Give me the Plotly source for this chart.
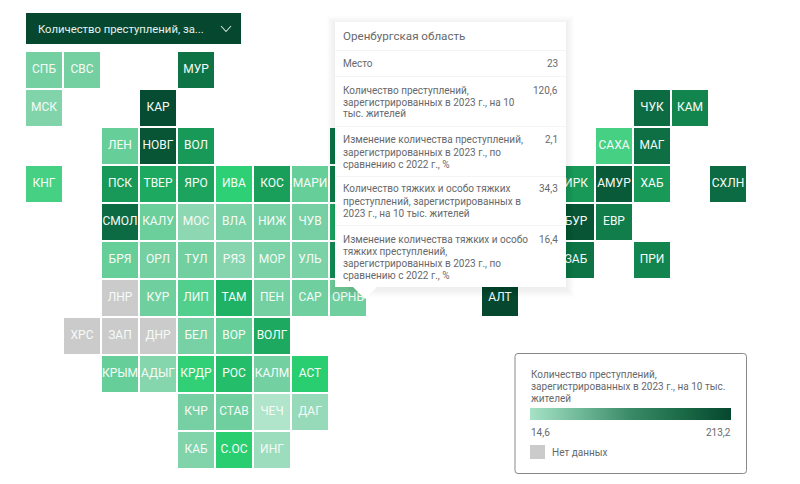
import plotly.graph_objects as go

# Data
regions = ["СПБ","СВС","МУР","МСК","КАР","ЛЕН","НОВГ","ВОЛ","КНГ","ПСК","ТВЕР","ЯРО","ИВА","КОС","МАРИ",
           "СМОЛ","КАЛУ","МОС","ВЛА","НИЖ","ЧУВ","БРЯ","ОРЛ","ТУЛ","РЯЗ","МОР","УЛЬ","КУР","ЛИП","ТАМ","ПЕН","САР","ОРНБ",
           "БЕЛ","ВОР","ВОЛГ","КРЫМ","АДЫГ","КРДР","РОС","КАЛМ","АСТ","КЧР","СТАВ","ЧЕЧ","ДАГ","КАБ","С.ОС","ИНГ",
           "ЧУК","КАМ","САХА","МАГ","ИРК","АМУР","ХАБ","СХЛН","БУР","ЕВР","ЗАБ","ПРИ","АЛТ"]
region_col = [0,1,4,0,3,2,3,4,0,2,3,4,5,6,7,
              2,3,4,5,6,7,2,3,4,5,6,7,3,4,5,6,7,8,
              4,5,6,2,3,4,5,6,7,4,5,6,7,4,5,6,
              16,17,15,16,14,15,16,18,14,15,14,16,12]
region_row = [0,0,0,1,1,2,2,2,3,3,3,3,3,3,3,
              4,4,4,4,4,4,5,5,5,5,5,5,6,6,6,6,6,6,
              7,7,7,8,8,8,8,8,8,9,9,9,9,10,10,10,
              1,1,2,2,3,3,3,3,4,4,5,5,6]
crime_rate = [115,115,187,95,210,123,205,168,131,168,160,163,137,165,123,
              192,122,75,105,112,112,123,115,118,85,105,105,120,128,155,115,121,120.6,
              110,123,160,123,88,136,148,117,139,112,120,14.6,60,95,139,50,
              192,178,131,190,168,202,168,192,205,182,187,178,213.2]
# Cells whose labels are hidden behind the tooltip
hidden_col = [8,8,8,8]
hidden_row = [2,3,4,5]
hidden_rate = [187,182,160,172]
no_data = ["ЛНР","ХРС","ЗАП","ДНР"]
no_data_col = [2,1,2,3]
no_data_row = [6,7,7,7]
value_min, value_max = 14.6, 213.2

cell_scale = [[0,"#b0e5cb"],[0.3,"#8ed7b3"],[0.534,"#70cf9f"],[0.62,"#2ad072"],[0.72,"#1fae62"],[0.85,"#0f7a49"],[1,"#05472f"]]
legend_scale = [[0,"#a6e2c6"],[0.25,"#6fb898"],[0.5,"#3b8a67"],[0.75,"#1c6b47"],[1,"#05472f"]]

tip_title = "Оренбургская область"
tip_rows = [
    (["Место"], "23", 63),
    (["Количество преступлений,","зарегистрированных в 2023 г., на 10","тыс. жителей"], "120,6", 90),
    (["Изменение количества преступлений,","зарегистрированных в 2023 г., по","сравнению с 2022 г., %"], "2,1", 140),
    (["Количество тяжких и особо тяжких","преступлений, зарегистрированных в","2023 г., на 10 тыс. жителей"], "34,3", 189),
    (["Изменение количества тяжких и особо","тяжких преступлений,","зарегистрированных в 2023 г., по","сравнению с 2022 г., %"], "16,4", 239),
]
tip_lines = [50,76,126,176,225]
legend_lines = ["Количество преступлений,","зарегистрированных в 2023 г., на 10 тыс.","жителей"]

n_cols, n_rows = 19, 11
def grid(cols, rows, vals):
    m = [[None]*n_cols for _ in range(n_rows)]
    for c, r, v in zip(cols, rows, vals):
        m[r][c] = v
    return m

L, T, W, H = 25, 51, 722, 418
px = lambda x: (x-L)/W
py = lambda y: (T+H-y)/H

fig = go.Figure()
fig.add_trace(go.Heatmap(x=list(range(n_cols)), y=list(range(n_rows)),
    z=grid(region_col+hidden_col, region_row+hidden_row, crime_rate+hidden_rate),
    zmin=value_min, zmax=value_max, colorscale=cell_scale, showscale=False,
    xgap=2, ygap=2, hoverinfo="skip"))
fig.add_trace(go.Heatmap(x=list(range(n_cols)), y=list(range(n_rows)),
    z=grid(no_data_col, no_data_row, [1]*len(no_data)),
    zmin=0, zmax=1, colorscale=[[0,"#cbcbcb"],[1,"#cbcbcb"]], showscale=False,
    xgap=2, ygap=2, hoverinfo="skip"))
fig.add_trace(go.Scatter(x=region_col+no_data_col, y=region_row+no_data_row,
    text=regions+no_data, mode="text", textposition="middle center",
    textfont=dict(family="Roboto", size=12, color="#f6fbf8"), hoverinfo="skip", showlegend=False))
fig.add_trace(go.Scatter(x=[None,None], y=[None,None], mode="markers", showlegend=False, hoverinfo="skip",
    marker=dict(color=[value_min,value_max], cmin=value_min, cmax=value_max, colorscale=legend_scale, showscale=True,
        colorbar=dict(orientation="h", lenmode="pixels", len=201, thicknessmode="pixels", thickness=12,
            x=px(530), xanchor="left", y=py(408), yanchor="top", xpad=0, ypad=0,
            outlinewidth=0, ticks="", showticklabels=False))))

shapes = []
def rect(x0,y0,x1,y1,fill,line=None,opacity=1,layer="above"):
    shapes.append(dict(type="rect",xref="paper",yref="paper",x0=px(x0),x1=px(x1),y0=py(y0),y1=py(y1),
        fillcolor=fill,opacity=opacity,layer=layer,line=dict(width=1 if line else 0,color=line or "rgba(0,0,0,0)")))
def path(points,fill=None,line=None,width=1,close=True):
    d = "M "+" L ".join(f"{px(a):.5f},{py(b):.5f}" for a,b in points)+(" Z" if close else "")
    shapes.append(dict(type="path",xref="paper",yref="paper",path=d,layer="above",
        fillcolor=fill or "rgba(0,0,0,0)",line=dict(width=width if line else 0,color=line or "rgba(0,0,0,0)")))

# dropdown
rect(26,13,241,44,"#05472f")
path([(221,26),(226,31.5),(231,26)],line="#d6e6de",width=1.1,close=False)
# tooltip shadow, body, pointer
for i in range(8,0,-1):
    rect(335-i,22-i+2,566+i,287+i+2,"#000000",opacity=0.006)
path([(347,287),(365,287),(355,299)],fill="#000000")
shapes[-1]["opacity"]=0.04
rect(335,22,566,287,"#ffffff")
path([(352,286),(378,286),(365,299)],fill="#ffffff")
for y in tip_lines:
    rect(335,y,566,y+0.8,"#f0f0f0")
# legend box
r=3; x0,y0,x1,y1=515,353.5,746.5,473.5
shapes.append(dict(type="path",xref="paper",yref="paper",layer="below",fillcolor="#ffffff",
    line=dict(width=1,color="#85898b"),
    path=(f"M {px(x0+r)},{py(y0)} L {px(x1-r)},{py(y0)} Q {px(x1)},{py(y0)} {px(x1)},{py(y0+r)} "
          f"L {px(x1)},{py(y1-r)} Q {px(x1)},{py(y1)} {px(x1-r)},{py(y1)} L {px(x0+r)},{py(y1)} "
          f"Q {px(x0)},{py(y1)} {px(x0)},{py(y1-r)} L {px(x0)},{py(y0+r)} Q {px(x0)},{py(y0)} {px(x0+r)},{py(y0)} Z")))
rect(530,445,545,459,"#cbcbcb")

ann = []
def text(x,y,s,size=10,color="#66696c",anchor="left"):
    ann.append(dict(xref="paper",yref="paper",x=px(x),y=py(y),text=s,showarrow=False,xanchor=anchor,yanchor="middle",
        font=dict(family="Roboto",size=size,color=color),xshift=0,yshift=0,borderpad=0,borderwidth=0))
text(38,29,"Количество преступлений, за...",size=11.3,color="#e8f2ed")
text(343,36,tip_title,size=11.6)
for lines,val,y in tip_rows:
    for i,s in enumerate(lines):
        text(343,y+i*12,s)
    text(558,y,val,anchor="right")
for i,s in enumerate(legend_lines):
    text(531,374+i*12,s)
text(531,432.5,"14,6")
text(731,432.5,"213,2",anchor="right")
text(552,452,"Нет данных")

fig.update_layout(width=800,height=484,margin=dict(l=L,r=800-L-W,t=T,b=484-T-H,pad=0),
    paper_bgcolor="white",plot_bgcolor="white",showlegend=False,shapes=shapes,annotations=ann,
    xaxis=dict(range=[-0.5,18.5],visible=False,fixedrange=True),
    yaxis=dict(range=[10.5,-0.5],visible=False,fixedrange=True))
fig.write_html("out.html",post_script="document.body.style.margin='0';",config=dict(displayModeBar=False))
